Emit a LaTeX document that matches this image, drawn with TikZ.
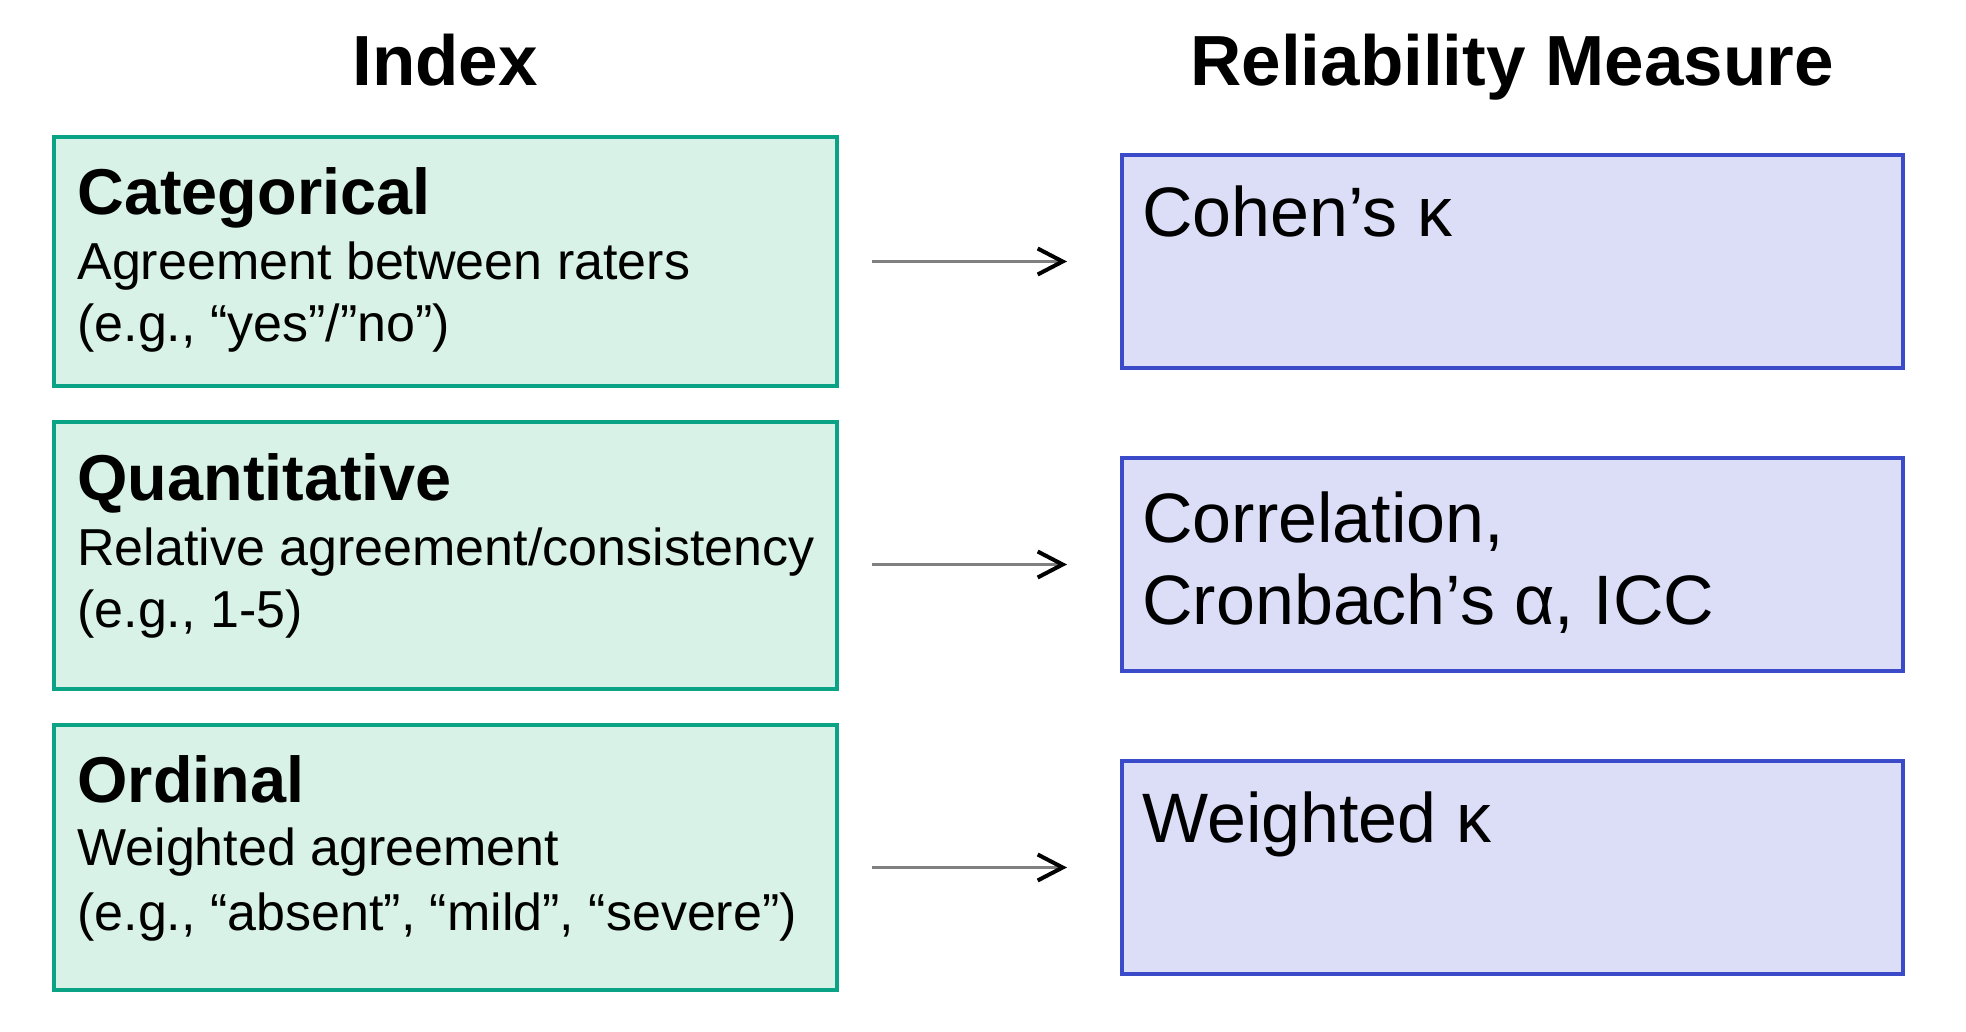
\documentclass[tikz,border=0pt]{standalone}
\usepackage{fontspec}
\setmainfont{Liberation Sans}
\usetikzlibrary{arrows.meta,calc}
\definecolor{gline}{HTML}{0AA385}
\definecolor{gfill}{HTML}{D8F2E8}
\definecolor{bline}{HTML}{3A4AC8}
\definecolor{bfill}{HTML}{DCDEF8}
\definecolor{shaft}{HTML}{808080}
\begin{document}
\begin{tikzpicture}[x=0.5pt,y=-0.5pt,
  gbox/.style={draw=gline, fill=gfill, line width=2pt, rectangle, anchor=north west, inner sep=0, outer sep=0, minimum width=391.5pt},
  bbox/.style={draw=bline, fill=bfill, line width=2pt, rectangle, anchor=north west, inner sep=0, outer sep=0, minimum width=390.5pt, minimum height=106.5pt},
  head/.style={font=\fontsize{32.4pt}{32.4pt}\selectfont\bfseries, anchor=base west, inner sep=0},
  body/.style={font=\fontsize{26pt}{26pt}\selectfont, anchor=base west, inner sep=0},
  meas/.style={font=\fontsize{35pt}{35pt}\selectfont, anchor=base west, inner sep=0},
  ttl/.style={font=\fontsize{35.5pt}{35.5pt}\selectfont\bfseries, anchor=base, inner sep=0},
  arr/.style={draw=shaft, line width=1.25pt, -{Straight Barb[black,length=12.5pt,width=13pt,line width=2pt]}}]
\useasboundingbox (0,0) rectangle (1966,1032);
% titles
\node[ttl] (tIndex) at (445,86) {Index};
\node[ttl] (tRel) at (1512,86) {Reliability Measure};
% green boxes
\node[gbox, minimum height=124.5pt] (g1) at (54,137) {};
\node[gbox, minimum height=133.5pt] (g2) at (54,422) {};
\node[gbox, minimum height=132.5pt] (g3) at (54,725) {};
% blue boxes
\node[bbox] (b1) at (1122,155) {};
\node[bbox] (b2) at (1122,458) {};
\node[bbox] (b3) at (1122,761) {};
% green texts
\node[head] (g1h) at (77,215) {Categorical};
\node[body] (g1a) at (77,280) {Agreement between raters};
\node[body] (g1b) at (77,342) {(e.g., “yes”/”no”)};
\node[head] (g2h) at (77,500) {Quantitative};
\node[body] (g2a) at (77,565) {Relative agreement/consistency};
\node[body] (g2b) at (77,627) {(e.g., 1-5)};
\node[head] (g3h) at (77,802) {Ordinal};
\node[body] (g3a) at (77,865) {Weighted agreement};
\node[body] (g3b) at (77,930) {(e.g., “absent”, “mild”, “severe”)};
% blue texts
\node[meas] (b1a) at (1142,237) {Cohen’s κ};
\node[meas] (b2a) at (1142,542) {Correlation,};
\node[meas] (b2b) at (1142,624) {Cronbach’s α, ICC};
\node[meas] (b3a) at (1142,842) {Weighted κ};
% arrows
\draw[arr] ($(g1.east |- b1.west)+(35,0)$) -- ($(b1.west)+(-55,0)$);
\draw[arr] ($(g2.east |- b2.west)+(35,0)$) -- ($(b2.west)+(-55,0)$);
\draw[arr] ($(g3.east |- b3.west)+(35,0)$) -- ($(b3.west)+(-55,0)$);
\end{tikzpicture}
\end{document}
